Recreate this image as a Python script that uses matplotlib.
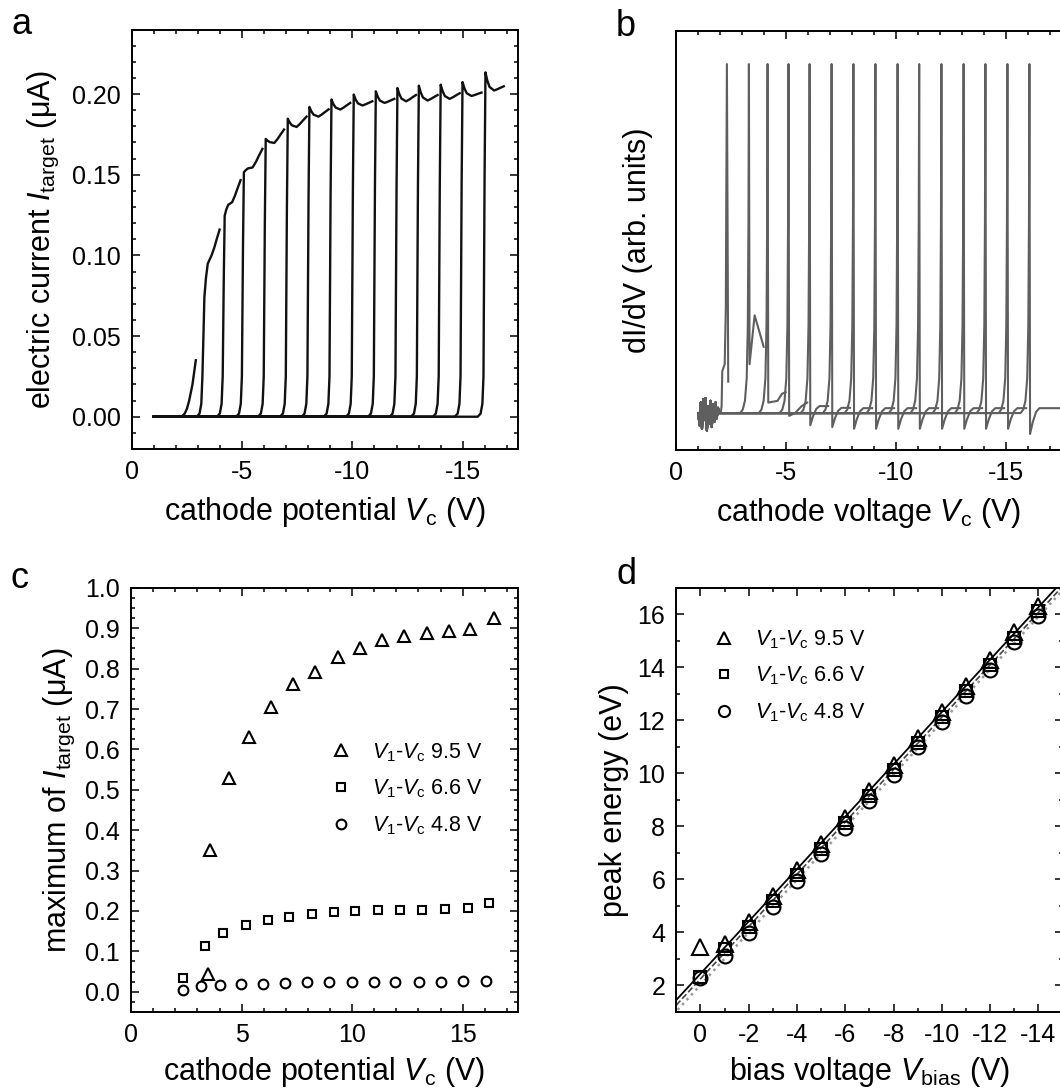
import numpy as np
import matplotlib
matplotlib.use('Agg')
import matplotlib.pyplot as plt
from matplotlib.ticker import MultipleLocator, FormatStrFormatter
from matplotlib.lines import Line2D

plt.rcParams['font.family'] = ['Liberation Sans', 'DejaVu Sans']
plt.rcParams['mathtext.fontset'] = 'custom'
plt.rcParams['mathtext.rm'] = 'Liberation Sans'
plt.rcParams['mathtext.it'] = 'Liberation Sans:italic'
plt.rcParams['axes.unicode_minus'] = False

# ---- panel a: I-V sweeps (cathode potential in V, current in uA) ----
# first sweep, read point by point
a_first_v = [-1.0, -2.25, -2.4, -2.5, -2.6, -2.75, -2.9]
a_first_i = [0.0, 0.0, 0.002, 0.005, 0.01, 0.02, 0.035]
# other sweeps: top of the steep rise, value after it, sweep end
a_rise = [3.29, 4.21, 5.08, 6.07, 7.07, 8.05, 9.05, 10.06, 11.06, 12.04, 13.01, 14.0, 14.99, 16.03]
a_top = [0.074, 0.1246, 0.1515, 0.1722, 0.1847, 0.192, 0.1966, 0.1997, 0.2017, 0.2037, 0.2052, 0.2058, 0.2074, 0.2134]
a_mid = [0.100, 0.133, 0.1545, 0.1697, 0.1796, 0.186, 0.1904, 0.1929, 0.1945, 0.1955, 0.196, 0.197, 0.1988, 0.2022]
a_end_v = [3.98, 4.93, 5.92, 6.9, 7.92, 8.92, 9.9, 10.9, 11.9, 12.88, 13.86, 14.86, 15.85, 16.86]
a_end_i = [0.116, 0.1466, 0.166, 0.178, 0.186, 0.1905, 0.1945, 0.1955, 0.197, 0.1994, 0.1994, 0.2005, 0.2009, 0.2048]

# ---- panel b: dI/dV (arb. units) ----
b_noise = [0.0, -0.035, 0.03, -0.045, 0.04, -0.02, 0.043, -0.05, 0.02, -0.03,
           0.035, -0.04, 0.025, -0.025, 0.03, -0.015, 0.015, 0.0]
b_noise_v = np.linspace(-1.0, -1.95, len(b_noise))
b_spike = [2.3, 3.3, 4.15, 5.1, 6.06, 7.06, 8.05, 9.05, 10.06, 11.04, 12.05, 13.06, 14.05, 15.05, 16.05]
b_after = [0.09, 0.14, 0.03, -0.008, -0.035, -0.04, -0.045, -0.045, -0.045, -0.045, -0.045, -0.045, -0.045, -0.045, -0.06]
b_end_v = [2.36, 3.97, 4.97, 5.95, 6.9, 7.9, 8.9, 9.9, 10.9, 11.9, 12.9, 13.9, 14.9, 15.9, 17.7]
b_end_i = [0.09, 0.19, 0.06, 0.03, 0.02, 0.015, 0.014, 0.014, 0.014, 0.014, 0.014, 0.014, 0.014, 0.014, 0.014]
# extra structure after the spike on the first sweeps
b_extra_v = {1: [3.56, 3.79], 2: [4.6, 4.8], 3: [5.4, 5.7]}
b_extra_i = {1: [0.28, 0.23], 2: [0.035, 0.055], 3: [0.0, 0.02]}

# ---- panel c: maximum of I_target vs cathode potential ----
c_tri_v = [3.49, 3.57, 4.42, 5.34, 6.34, 7.34, 8.34, 9.34, 10.34, 11.34, 12.34, 13.38, 14.37, 15.34, 16.42]
c_tri_i = [0.045, 0.351, 0.528, 0.632, 0.706, 0.762, 0.792, 0.829, 0.851, 0.870, 0.881, 0.889, 0.894, 0.899, 0.925]
c_sq_v = [2.37, 3.34, 4.18, 5.18, 6.18, 7.15, 8.18, 9.18, 10.15, 11.18, 12.18, 13.18, 14.22, 15.23, 16.18]
c_sq_i = [0.035, 0.114, 0.145, 0.164, 0.177, 0.184, 0.193, 0.197, 0.201, 0.202, 0.203, 0.203, 0.205, 0.208, 0.219]
c_ci_v = [2.34, 3.14, 4.0, 4.95, 5.95, 6.95, 7.95, 8.95, 10.0, 10.98, 11.95, 13.03, 14.03, 15.03, 16.06]
c_ci_i = [0.004, 0.013, 0.017, 0.020, 0.020, 0.022, 0.023, 0.023, 0.023, 0.023, 0.024, 0.024, 0.024, 0.026, 0.026]

# ---- panel d: peak energy vs bias voltage ----
d_bias = [0, -1, -2, -3, -4, -5, -6, -7, -8, -9, -10, -11, -12, -13, -14]
d_tri = [3.45, 3.58, 4.41, 5.38, 6.34, 7.35, 8.31, 9.32, 10.32, 11.33, 12.32, 13.30, 14.29, 15.32, 16.33]
d_sq = [2.30, 3.38, 4.22, 5.17, 6.16, 7.14, 8.12, 9.13, 10.12, 11.13, 12.12, 13.10, 14.10, 15.12, 16.12]
d_ci = [2.29, 3.12, 3.97, 4.96, 5.94, 6.96, 7.95, 8.97, 9.95, 10.98, 11.95, 12.91, 13.92, 14.95, 15.93]

legend_labels = [r'$V_1$-$V_\mathrm{c}$ 9.5 V', r'$V_1$-$V_\mathrm{c}$ 6.6 V', r'$V_1$-$V_\mathrm{c}$ 4.8 V']

fig = plt.figure(figsize=(10.6, 10.91), dpi=100)


def px_axes(l, t, r, b):
    return fig.add_axes([l / 1060, 1 - b / 1091, (r - l) / 1060, (b - t) / 1091])


def style(ax):
    ax.tick_params(which='both', direction='in', top=True, right=True, width=1.1,
                   labelsize=18, pad=8)
    ax.tick_params(which='major', length=6)
    ax.tick_params(which='minor', length=3)
    for s in ax.spines.values():
        s.set_linewidth(1.4)


leg_kw = dict(loc='upper left', frameon=False, fontsize=15.5, handlelength=1.2,
              handletextpad=0.84, labelspacing=0.65, borderaxespad=0, borderpad=0)

# panel a
ax = px_axes(131.8, 29.5, 517.9, 449)
ax.plot(a_first_v, a_first_i, color='#111111', lw=1.7)
for r, p, m, ev, ei in zip(a_rise, a_top, a_mid, a_end_v, a_end_i):
    span = ev - r
    vs = [1.0, r - 0.35, r - 0.22, r - 0.14, r - 0.09, r - 0.04, r,
          r + 0.1 * span, r + 0.22 * span, r + 0.47 * span, r + 0.65 * span, r + 0.82 * span, ev]
    cs = [0, 0, 0.002, 0.008, 0.025, 0.7 * p, p,
          p + 0.45 * (m - p), p + 0.8 * (m - p), m, m + 0.3 * (ei - m), m + 0.65 * (ei - m), ei]
    ax.plot([-v for v in vs], cs, color='#111111', lw=1.7)
ax.set_xlim(0, -17.5)
ax.set_ylim(-0.02, 0.24)
ax.xaxis.set_major_locator(MultipleLocator(5))
ax.xaxis.set_minor_locator(MultipleLocator(1))
ax.yaxis.set_major_locator(MultipleLocator(0.05))
ax.yaxis.set_minor_locator(MultipleLocator(0.01))
ax.yaxis.set_major_formatter(FormatStrFormatter('%.2f'))
style(ax)
ax.set_xlabel(r'cathode potential $V_\mathrm{c}$ (V)', fontsize=22, labelpad=8)
ax.set_ylabel(r'electric current $I_\mathrm{target}$ ($\mathrm{\mu}$A)', fontsize=22, labelpad=8)

# panel b
ax = px_axes(676.3, 30.6, 1061.3, 449.7)
for k, (s, aft, ev, ei) in enumerate(zip(b_spike, b_after, b_end_v, b_end_i)):
    vs = list(-b_noise_v)
    cs = list(b_noise)
    if k == 0:
        vs += [2.02, 2.06, 2.09, 2.2, 2.25, s, s + 0.06, ev]
        cs += [0.0, 0.02, 0.12, 0.14, 0.3, 1.0, aft, ei]
    else:
        vs += [s - 0.4, s - 0.28, s - 0.18, s - 0.1, s - 0.05, s - 0.02, s, s + 0.03]
        cs += [0, 0.01, 0.035, 0.1, 0.25, 0.55, 1.0, aft]
        if k in b_extra_v:
            vs += b_extra_v[k] + [ev]
            cs += b_extra_i[k] + [ei]
        else:
            vs += [s + 0.15, s + 0.3, s + 0.45, ev]
            cs += [aft + 0.45 * (ei - aft), aft + 0.85 * (ei - aft), ei, ei]
    ax.plot([-v for v in vs], cs, color='#5f5f5f', lw=1.5)
ax.set_xlim(0, -17.5)
ax.set_ylim(-0.105, 1.096)
ax.xaxis.set_major_locator(MultipleLocator(5))
ax.xaxis.set_minor_locator(MultipleLocator(1))
ax.set_yticks([])
style(ax)
ax.set_xlabel(r'cathode voltage $V_\mathrm{c}$ (V)', fontsize=22, labelpad=8)
ax.set_ylabel('dI/dV (arb. units)', fontsize=22, labelpad=17)

# panel c
ax = px_axes(131.1, 587.9, 517.9, 1011.9)
mk = dict(ls='none', mfc='none', mec='black', mew=1.5)
h1, = ax.plot(c_tri_v, c_tri_i, marker='^', ms=9, **mk)
h2, = ax.plot(c_sq_v, c_sq_i, marker='s', ms=6, **mk)
h3, = ax.plot(c_ci_v, c_ci_i, marker='o', ms=7, **mk)
ax.set_xlim(0, 17.5)
ax.set_ylim(-0.05, 1.0)
ax.xaxis.set_major_locator(MultipleLocator(5))
ax.xaxis.set_minor_locator(MultipleLocator(1))
ax.yaxis.set_major_locator(MultipleLocator(0.1))
ax.yaxis.set_minor_locator(MultipleLocator(0.025))
ax.yaxis.set_major_formatter(FormatStrFormatter('%.1f'))
style(ax)
ax.set_xlabel(r'cathode potential $V_\mathrm{c}$ (V)', fontsize=22, labelpad=6)
ax.set_ylabel(r'maximum of $I_\mathrm{target}$ ($\mathrm{\mu}$A)', fontsize=22, labelpad=6)
ax.legend([h1, h2, h3], legend_labels, bbox_to_anchor=(0.509, 0.639), **leg_kw)

# panel d
ax = px_axes(676.3, 587.9, 1062.6, 1011.9)
fit_x = np.array([1.5, -15.5])
for vals, st, col, lw in [(d_tri, '-', 'black', 1.3), (d_sq, '--', '#444444', 1.2),
                          (d_ci, ':', '#999999', 1.8)]:
    k, b0 = np.polyfit(d_bias[1:], vals[1:], 1)
    ax.plot(fit_x, k * fit_x + b0, ls=st, color=col, lw=lw)
ax.plot(d_bias, d_tri, marker='^', ms=11, **mk)
ax.plot(d_bias, d_sq, marker='s', ms=8, **mk)
ax.plot(d_bias, d_ci, marker='o', ms=10, **mk)
ax.set_xlim(1, -15)
ax.set_ylim(1, 17)
ax.xaxis.set_major_locator(MultipleLocator(2))
ax.xaxis.set_minor_locator(MultipleLocator(1))
ax.yaxis.set_major_locator(MultipleLocator(2))
ax.yaxis.set_minor_locator(MultipleLocator(1))
style(ax)
ax.set_xlabel(r'bias voltage $V_\mathrm{bias}$ (V)', fontsize=22, labelpad=6)
ax.set_ylabel('peak energy (eV)', fontsize=22, labelpad=6)
lh = [Line2D([], [], marker='^', ms=9, **mk), Line2D([], [], marker='s', ms=6, **mk),
      Line2D([], [], marker='o', ms=8, **mk)]
ax.legend(lh, legend_labels, bbox_to_anchor=(0.091, 0.905), **leg_kw)

for lab, x, y in [('a', 22, 25), ('b', 626, 26), ('c', 20, 579), ('d', 626, 574)]:
    fig.text(x / 1060, 1 - y / 1091, lab, fontsize=26, ha='center', va='center')

fig.savefig('out.png', dpi=100)
